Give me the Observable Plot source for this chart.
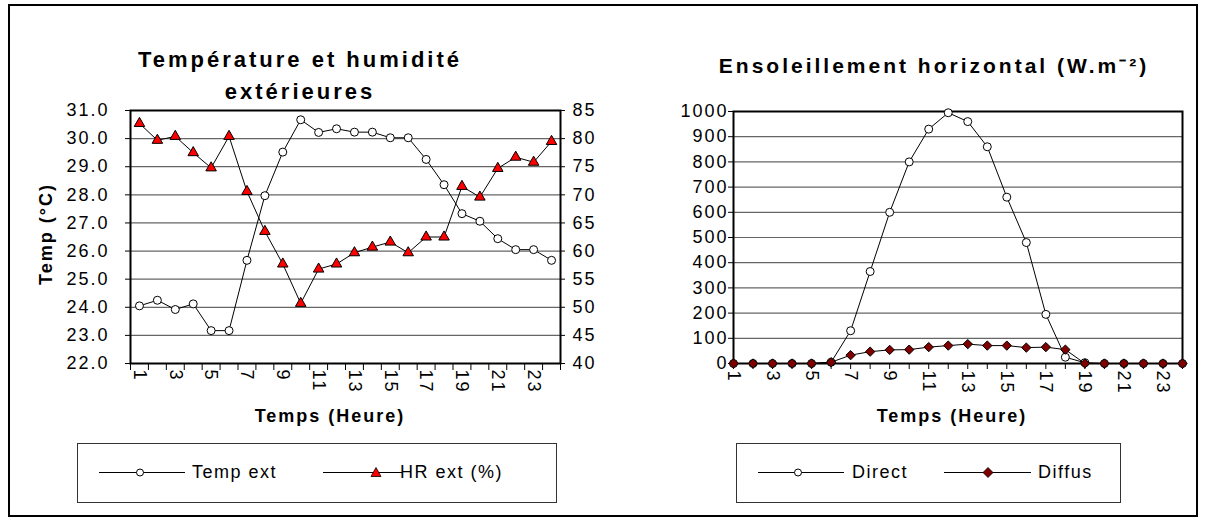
<!DOCTYPE html>
<html><head><meta charset="utf-8">
<script src="https://cdn.jsdelivr.net/npm/d3@7"></script>
<script src="https://cdn.jsdelivr.net/npm/@observablehq/plot@0.6"></script>
<style>
body{margin:0;background:#fff;}
#wrap{position:relative;width:1205px;height:521px;overflow:hidden;font-family:"Liberation Sans",Arial,sans-serif;color:#000;background:#fff;}
.abs{position:absolute;}
.title{font-weight:bold;letter-spacing:3px;text-align:center;white-space:nowrap;line-height:32px;}
.axt{font-weight:bold;font-size:18px;letter-spacing:2px;white-space:nowrap;line-height:1;transform:translate(-50%,-50%);}
.legend{border:1px solid #333;box-sizing:border-box;}
.lt{font-size:18px;letter-spacing:1.5px;white-space:nowrap;line-height:1;transform:translateY(-50%);}
</style></head>
<body>
<div id="wrap">
  <div class="abs" style="left:8px;top:4px;width:1190px;height:513px;border:2px solid #000;box-sizing:border-box;"></div>
  <div id="leftT" class="abs" style="left:0;top:0;width:600px;height:400px;"></div>
  <div id="leftH" class="abs" style="left:0;top:0;width:600px;height:400px;"></div>
  <div id="right" class="abs" style="left:600px;top:0;width:605px;height:400px;"></div>
  <div class="abs title" style="left:100px;top:44px;width:400px;font-size:22px;">Température et humidité<br>extérieures</div>
  <div class="abs title" style="left:684px;top:50px;width:500px;font-size:21px;">Ensoleillement horizontal (W.m⁻²)</div>
  <div class="abs axt" style="left:46px;top:234px;transform:translate(-50%,-50%) rotate(-90deg);">Temp (°C)</div>
  <div class="abs axt" style="left:330px;top:416px;">Temps (Heure)</div>
  <div class="abs axt" style="left:952px;top:416px;">Temps (Heure)</div>
  <div class="abs legend" style="left:77px;top:443px;width:480px;height:60px;"></div>
  <div class="abs legend" style="left:736px;top:443px;width:385px;height:60px;"></div>
  <svg class="abs" style="left:0;top:0;" width="1205" height="521">
    <line x1="99" x2="185" y1="472.5" y2="472.5" stroke="#000" stroke-width="1"/>
    <circle cx="140" cy="472.5" r="3.5" fill="#fff" stroke="#000"/>
    <line x1="323" x2="402" y1="472.5" y2="472.5" stroke="#000" stroke-width="1"/>
    <path d="M376,467.5 L381,476.5 L371,476.5 Z" fill="#ff0000" stroke="#000" stroke-width="0.8"/>
    <line x1="758" x2="844" y1="472.5" y2="472.5" stroke="#000" stroke-width="1"/>
    <circle cx="798" cy="472.5" r="3.5" fill="#fff" stroke="#000"/>
    <line x1="944" x2="1031" y1="472.5" y2="472.5" stroke="#000" stroke-width="1"/>
    <path d="M988,467.5 L993,472.5 L988,477.5 L983,472.5 Z" fill="#800000" stroke="#000" stroke-width="0.8"/>
  </svg>
  <div id="lg1" class="abs lt" style="left:192px;top:472px;"></div>
  <div id="lg2" class="abs lt" style="left:400px;top:472px;"></div>
  <div id="lg3" class="abs lt" style="left:852px;top:472px;"></div>
  <div id="lg4" class="abs lt" style="left:1038px;top:472px;"></div>
</div>
<script>
// ---- data ----
const hours = [1,2,3,4,5,6,7,8,9,10,11,12,13,14,15,16,17,18,19,20,21,22,23,24];
const hourLabels = [1,3,5,7,9,11,13,15,17,19,21,23];
const tempExt = [24.05,24.25,23.92,24.12,23.17,23.17,25.67,27.97,29.52,30.67,30.22,30.35,30.23,30.23,30.03,30.03,29.26,28.36,27.33,27.06,26.44,26.05,26.05,25.67];
const hrExt = [82.7,79.7,80.4,77.5,74.8,80.4,70.6,63.5,57.7,50.7,56.8,57.7,59.7,60.7,61.6,59.7,62.5,62.5,71.5,69.6,74.7,76.7,75.8,79.5];
const direct = [0,0,0,0,0,5,130,365,600,800,930,995,960,860,660,480,195,25,3,0,0,0,0,0];
const diffus = [0,0,0,0,0,5,33,47,54,55,65,71,77,71,71,63,65,55,0,0,0,0,0,0];
const tempTicks = [22,23,24,25,26,27,28,29,30,31];
const humTicks = [40,45,50,55,60,65,70,75,80,85];
const radTicks = [0,100,200,300,400,500,600,700,800,900,1000];
const seriesLeft = ["Temp ext", "HR ext (%)"];
const seriesRight = ["Direct", "Diffus"];

// ---- build ----
const rowsL = hours.map((h, i) => ({h, t: tempExt[i], hr: hrExt[i]}));
const rowsR = hours.map((h, i) => ({h, dir: direct[i], dif: diffus[i]}));
const bandEdges = hours.map(h => h - 0.5).concat([hours[hours.length - 1] + 0.5]);

const font = '"Liberation Sans", Arial, sans-serif';
const style = {fontFamily: font, fontSize: "18px", letterSpacing: "2px", background: "transparent", overflow: "visible", color: "#000"};
const grid = {stroke: "#666", strokeWidth: 1.2, strokeOpacity: 1};

const tempPlot = Plot.plot({
  width: 600, height: 400, marginLeft: 130, marginRight: 40, marginTop: 110, marginBottom: 37,
  style,
  x: {type: "linear", domain: [0.5, 24.5]},
  y: {type: "linear", domain: [22, 31]},
  marks: [
    Plot.ruleY(tempTicks.slice(1, -1), grid),
    Plot.axisY({ticks: tempTicks, tickSize: 5, tickFormat: () => "", label: null}),
    Plot.text(tempTicks, {y: d => d, text: d => d.toFixed(1), frameAnchor: "left", textAnchor: "end", lineAnchor: "middle", dx: -21}),
    Plot.axisX({ticks: bandEdges, tickSize: 7, tickFormat: () => "", label: null}),
    Plot.axisX({ticks: hourLabels, tickSize: 0, tickPadding: 6, tickRotate: 90, label: null}),
    Plot.frame({stroke: "#000", strokeWidth: 2}),
    Plot.line(rowsL, {x: "h", y: "t", stroke: "#000", strokeWidth: 1}),
    Plot.dot(rowsL, {x: "h", y: "t", r: 4, fill: "#fff", stroke: "#000", strokeWidth: 1})
  ]
});

const humPlot = Plot.plot({
  width: 600, height: 400, marginLeft: 130, marginRight: 40, marginTop: 110, marginBottom: 37,
  style,
  x: {type: "linear", domain: [0.5, 24.5], axis: null},
  y: {type: "linear", domain: [40, 85]},
  marks: [
    Plot.axisY({anchor: "right", ticks: humTicks, tickSize: 4, tickPadding: 8, label: null}),
    Plot.line(rowsL, {x: "h", y: "hr", stroke: "#000", strokeWidth: 1}),
    Plot.dot(rowsL, {x: "h", y: "hr", symbol: "triangle", r: 3.9, fill: "#ff0000", stroke: "#000", strokeWidth: 1})
  ]
});

const radPlot = Plot.plot({
  width: 605, height: 400, marginLeft: 133, marginRight: 23, marginTop: 111, marginBottom: 37,
  style,
  x: {type: "linear", domain: [1, 24]},
  y: {type: "linear", domain: [0, 1000]},
  marks: [
    Plot.ruleY(radTicks.slice(1, -1), grid),
    Plot.axisY({ticks: radTicks, tickSize: 5, tickPadding: 0, tickFormat: d => String(d), label: null}),
    Plot.axisX({ticks: hours, tickSize: 6, tickFormat: () => "", label: null}),
    Plot.axisX({ticks: hourLabels, tickSize: 0, tickPadding: 7, tickRotate: 90, label: null}),
    Plot.frame({stroke: "#000", strokeWidth: 2}),
    Plot.line(rowsR, {x: "h", y: "dir", stroke: "#000", strokeWidth: 1}),
    Plot.dot(rowsR, {x: "h", y: "dir", r: 4, fill: "#fff", stroke: "#000", strokeWidth: 1}),
    Plot.line(rowsR, {x: "h", y: "dif", stroke: "#000", strokeWidth: 1}),
    Plot.dot(rowsR, {x: "h", y: "dif", symbol: "diamond2", r: 4.2, fill: "#800000", stroke: "#000", strokeWidth: 1})
  ]
});

document.getElementById("leftT").appendChild(tempPlot);
document.getElementById("leftH").appendChild(humPlot);
document.getElementById("right").appendChild(radPlot);
document.getElementById("lg1").textContent = seriesLeft[0];
document.getElementById("lg2").textContent = seriesLeft[1];
document.getElementById("lg3").textContent = seriesRight[0];
document.getElementById("lg4").textContent = seriesRight[1];
</script>
</body></html>
